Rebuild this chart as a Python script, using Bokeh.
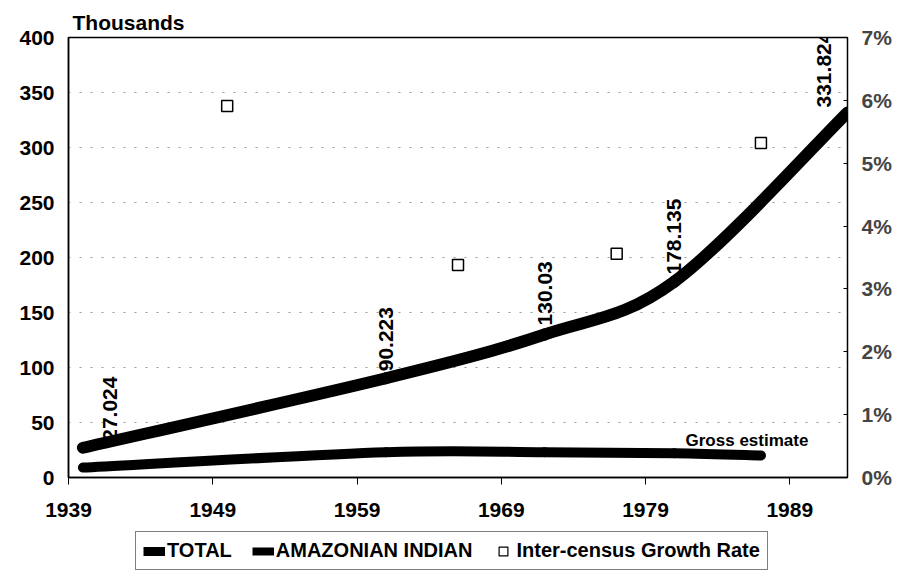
import math
from bokeh.plotting import figure
from bokeh.layouts import column
from bokeh.models import Range1d, LinearAxis, Legend, LegendItem, Title, FixedTicker
from bokeh.core.properties import value
from bokeh.embed import file_html
from bokeh.resources import INLINE

# ---- data ----
census_years = [1940, 1961, 1972, 1981, 1993]
total_pop = [27.024, 90.223, 130.03, 178.135, 331.824]          # thousands
indian_years = [1940, 1961, 1972, 1981, 1987]
indian_pop = [9.0, 23.0, 23.0, 22.0, 20.0]                        # thousands
growth_years = [1950, 1966, 1977, 1987]
growth_rate = [5.91, 3.38, 3.56, 5.32]                            # percent
x_ticks = [1939, 1949, 1959, 1969, 1979, 1989]
y_ticks = [0, 50, 100, 150, 200, 250, 300, 350, 400]
pct_ticks = [0, 1, 2, 3, 4, 5, 6, 7]
series_names = ["TOTAL", "AMAZONIAN INDIAN", "Inter-census Growth Rate"]

# label placement (styling, pixels)
label_dx = [27, 0, 0, 0, -24]
label_dy = [-7, -7, -9, -7, -5]

FONT = "Liberation Sans"


def smooth(xs, ys):
    """Bezier control points of an Excel-like smoothed line through the points."""
    n = len(xs)
    out = dict(x0=[], y0=[], x1=[], y1=[], cx0=[], cy0=[], cx1=[], cy1=[])
    for i in range(n - 1):
        xp, yp = (xs[i - 1], ys[i - 1]) if i > 0 else (xs[i], ys[i])
        xn, yn = (xs[i + 2], ys[i + 2]) if i + 2 < n else (xs[i + 1], ys[i + 1])
        out["x0"].append(xs[i]); out["y0"].append(ys[i])
        out["x1"].append(xs[i + 1]); out["y1"].append(ys[i + 1])
        out["cx0"].append(xs[i] + (xs[i + 1] - xp) / 6.0)
        out["cy0"].append(ys[i] + (ys[i + 1] - yp) / 6.0)
        out["cx1"].append(xs[i + 1] - (xn - xs[i]) / 6.0)
        out["cy1"].append(ys[i + 1] - (yn - ys[i]) / 6.0)
    return out


p = figure(width=896, height=527, output_backend="svg", toolbar_location=None,
           x_range=Range1d(1939, 1993), y_range=Range1d(0, 400),
           min_border_left=68, min_border_right=49, min_border_top=37, min_border_bottom=50)
p.extra_y_ranges = {"pct": Range1d(0, 7)}

p.background_fill_color = "white"
p.border_fill_color = "white"
p.outline_line_color = "black"
p.outline_line_width = 1.5

# grid
p.xgrid.visible = False
p.ygrid.ticker = FixedTicker(ticks=y_ticks)
p.ygrid.grid_line_color = "#9a9a9a"
p.ygrid.grid_line_dash = "2 9"
p.ygrid.grid_line_width = 1

# axes
p.xaxis.ticker = FixedTicker(ticks=x_ticks)
p.yaxis.ticker = FixedTicker(ticks=y_ticks)
for ax in (p.xaxis[0], p.yaxis[0]):
    ax.axis_line_color = "black"
    ax.axis_line_width = 1.5
    ax.minor_tick_line_color = None
    ax.major_label_text_font = FONT
    ax.major_label_text_font_size = "21px"
    ax.major_label_text_font_style = "bold"
    ax.major_label_text_color = "black"
p.xaxis.major_tick_out = 7
p.xaxis.major_tick_in = 0
p.xaxis.major_tick_line_color = "black"
p.xaxis.major_label_standoff = 18
p.yaxis.major_tick_out = 0
p.yaxis.major_tick_in = 0
p.yaxis.major_label_standoff = 14

right = LinearAxis(y_range_name="pct", ticker=FixedTicker(ticks=pct_ticks),
                   major_label_overrides={t: f"{t}%" for t in pct_ticks})
right.axis_line_color = "black"
right.axis_line_width = 1
right.major_tick_out = 0
right.major_tick_in = 4
right.minor_tick_line_color = None
right.major_label_standoff = 14
right.major_label_text_font = FONT
right.major_label_text_font_size = "21px"
right.major_label_text_font_style = "bold"
p.add_layout(right, "right")

# series
s_tot = smooth(census_years, total_pop)
p.bezier(line_color="black", line_width=12, line_cap="round", **s_tot)
s_ind = smooth(indian_years, indian_pop)
p.bezier(line_color="black", line_width=10, line_cap="round", **s_ind)
p.scatter(growth_years, growth_rate, marker="square", size=11,
          fill_color="white", line_color="black", line_width=1.5,
          y_range_name="pct")

# data labels
p.text(x=census_years, y=total_pop, text=[f"{v:g}" for v in total_pop],
       angle=math.pi / 2, text_align="left", text_baseline="middle",
       x_offset=label_dx, y_offset=label_dy,
       text_font=value(FONT), text_font_size="21px", text_font_style="bold",
       text_color="black")

p.text(x=[indian_years[-1]], y=[indian_pop[-1]], text=["Gross estimate"],
       text_align="center", text_baseline="alphabetic", x_offset=-14, y_offset=-15,
       text_font=value(FONT), text_font_size="17px", text_font_style="bold",
       text_color="black")

# axis unit label above the frame
p.add_layout(Title(text="Thousands", align="left", offset=4, standoff=8,
                   text_font=FONT, text_font_size="21px", text_font_style="bold",
                   text_color="black"), "above")

# ---- legend strip (separate small figure underneath) ----
# its ranges are chosen so that the series drawn here stay out of view;
# they only supply the legend glyph styles
lg = figure(width=896, height=44, output_backend="svg", toolbar_location=None,
            x_range=Range1d(0, 1), y_range=Range1d(0, 1),
            min_border_left=0, min_border_right=0, min_border_top=0, min_border_bottom=0)
lg.axis.visible = False
lg.grid.visible = False
lg.outline_line_color = None
lg.background_fill_color = "white"
lg.border_fill_color = "white"
k_tot = lg.line(x=census_years, y=total_pop, line_color="black", line_width=9)
k_ind = lg.line(x=indian_years, y=indian_pop, line_color="black", line_width=8)
k_gr = lg.scatter(x=growth_years, y=growth_rate, marker="square", size=8,
                  fill_color="white", line_color="black", line_width=1.2)

legend = Legend(items=[LegendItem(label=series_names[0], renderers=[k_tot]),
                       LegendItem(label=series_names[1], renderers=[k_ind]),
                       LegendItem(label=series_names[2], renderers=[k_gr])],
                orientation="horizontal", location=(67, 1),
                label_text_font=FONT, label_text_font_size="20px",
                label_text_font_style="bold", label_text_color="black",
                glyph_width=22, glyph_height=22, label_standoff=2, spacing=20,
                padding=7, margin=0, border_line_color="black", border_line_width=1.5,
                background_fill_color="white", background_fill_alpha=1)
lg.add_layout(legend, "center")

layout = column(p, lg, spacing=0)
open("out.html", "w").write(file_html(layout, INLINE))
